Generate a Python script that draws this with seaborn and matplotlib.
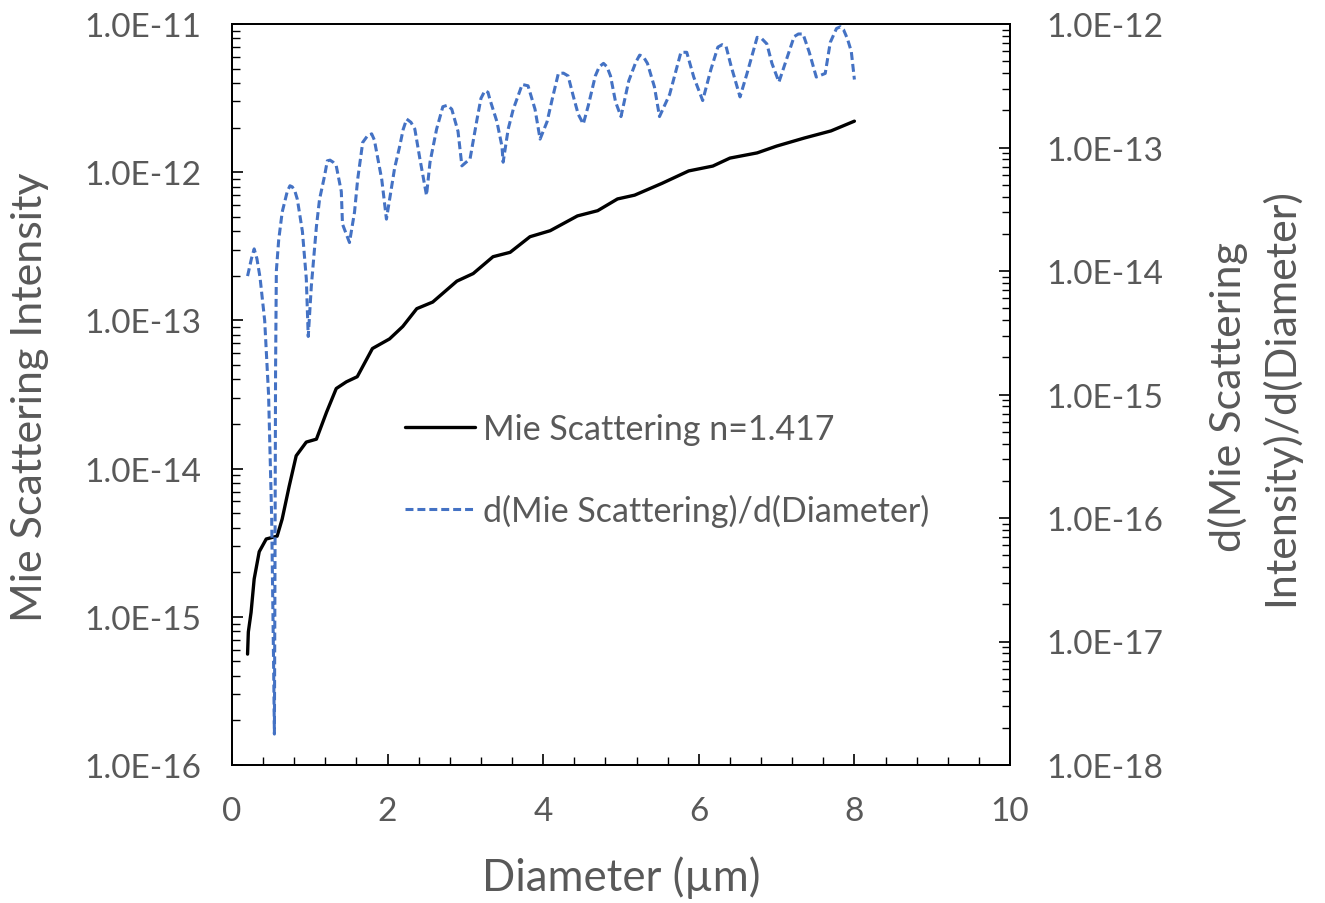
import matplotlib
matplotlib.use("Agg")
import matplotlib.pyplot as plt
import matplotlib.ticker as mticker
import seaborn as sns
import numpy as np

# ---------------- data ----------------
diam_mie = [0.2, 0.21, 0.245, 0.285, 0.35, 0.44, 0.58, 0.645, 0.735, 0.825,
            0.955, 1.085, 1.215, 1.34, 1.47, 1.61, 1.805, 2.025, 2.195, 2.375,
            2.58, 2.89, 3.1, 3.355, 3.575, 3.83, 4.09, 4.44, 4.7, 4.955,
            5.175, 5.525, 5.87, 6.18, 6.4, 6.75, 7.0, 7.355, 7.7, 8.0]
mie_intensity = [5.6e-16, 7.9e-16, 1.07e-15, 1.8e-15, 2.75e-15, 3.35e-15, 3.5e-15, 4.57e-15, 7.6e-15, 1.22e-14,
                 1.51e-14, 1.58e-14, 2.4e-14, 3.47e-14, 3.85e-14, 4.17e-14, 6.46e-14, 7.5e-14, 9.1e-14, 1.2e-13,
                 1.33e-13, 1.84e-13, 2.07e-13, 2.69e-13, 2.88e-13, 3.67e-13, 4.03e-13, 5.07e-13, 5.5e-13, 6.6e-13,
                 7.0e-13, 8.4e-13, 1.02e-12, 1.10e-12, 1.245e-12, 1.35e-12, 1.5e-12, 1.7e-12, 1.9e-12, 2.21e-12]

diam_deriv = [0.2, 0.25, 0.285, 0.32, 0.36, 0.42, 0.47, 0.51, 0.535, 0.545,
              0.553, 0.56, 0.57, 0.60, 0.645, 0.71, 0.745, 0.775, 0.81, 0.84,
              0.905, 0.955, 0.98, 1.02, 1.085, 1.125, 1.19, 1.225, 1.26, 1.30,
              1.34, 1.405, 1.42, 1.51, 1.575, 1.615, 1.68, 1.74, 1.795, 1.83,
              1.86, 1.925, 1.985, 2.09, 2.155, 2.20, 2.245, 2.30, 2.35, 2.415,
              2.50, 2.545, 2.63, 2.71, 2.77, 2.825, 2.905, 2.955, 3.06, 3.15,
              3.20, 3.25, 3.29, 3.315, 3.405, 3.47, 3.485, 3.55, 3.615, 3.73,
              3.805, 3.895, 3.96, 4.05, 4.115, 4.195, 4.26, 4.32, 4.385, 4.45,
              4.515, 4.58, 4.67, 4.72, 4.775, 4.82, 4.865, 4.93, 5.0, 5.1,
              5.19, 5.24, 5.29, 5.34, 5.43, 5.495, 5.625, 5.77, 5.845, 5.935,
              6.05, 6.155, 6.245, 6.30, 6.35, 6.415, 6.53, 6.62, 6.75, 6.81,
              6.875, 6.94, 7.03, 7.225, 7.28, 7.34, 7.42, 7.51, 7.625, 7.69,
              7.77, 7.82, 7.86, 7.91, 7.96, 8.0]
deriv_values = [9.1e-15, 1.26e-14, 1.51e-14, 1.26e-14, 8.9e-15, 3.98e-15, 1.0e-15, 1.0e-16, 6.3e-18, 1.78e-18,
                5.0e-17, 1.58e-15, 1.0e-14, 1.78e-14, 3.0e-14, 4.4e-14, 4.9e-14, 4.8e-14, 4.4e-14, 3.8e-14,
                2.09e-14, 8.7e-15, 2.95e-15, 7.6e-15, 2.29e-14, 3.8e-14, 5.9e-14, 7.8e-14, 7.9e-14, 7.6e-14,
                7.1e-14, 4.4e-14, 2.4e-14, 1.7e-14, 3.0e-14, 5.5e-14, 1.1e-13, 1.24e-13, 1.29e-13, 1.15e-13,
                9.1e-14, 5.5e-14, 2.63e-14, 6.8e-14, 1.02e-13, 1.4e-13, 1.7e-13, 1.6e-13, 1.41e-13, 8.1e-14,
                4.1e-14, 7.6e-14, 1.41e-13, 2.14e-13, 2.2e-13, 2.04e-13, 1.35e-13, 7.1e-14, 8.1e-14, 1.7e-13,
                2.5e-13, 2.88e-13, 2.8e-13, 2.45e-13, 1.62e-13, 1.02e-13, 7.6e-14, 1.41e-13, 2.04e-13, 3.24e-13,
                3.16e-13, 2.04e-13, 1.17e-13, 1.62e-13, 2.45e-13, 3.98e-13, 4.0e-13, 3.8e-13, 2.63e-13, 1.86e-13,
                1.55e-13, 2.19e-13, 3.8e-13, 4.5e-13, 4.8e-13, 4.5e-13, 3.8e-13, 2.34e-13, 1.78e-13, 3.47e-13,
                4.9e-13, 5.6e-13, 5.4e-13, 4.8e-13, 3.09e-13, 1.78e-13, 2.69e-13, 5.9e-13, 5.9e-13, 3.72e-13,
                2.4e-13, 4.27e-13, 6.5e-13, 6.8e-13, 6.6e-13, 4.57e-13, 2.57e-13, 3.98e-13, 7.8e-13, 7.6e-13,
                6.9e-13, 4.8e-13, 3.39e-13, 7.9e-13, 8.3e-13, 8.3e-13, 5.9e-13, 3.72e-13, 3.98e-13, 7.1e-13,
                9.2e-13, 9.5e-13, 9.0e-13, 7.6e-13, 6.0e-13, 3.55e-13]

label_mie = "Mie Scattering n=1.417"
label_deriv = "d(Mie Scattering)/d(Diameter)"
x_ticks = [0, 2, 4, 6, 8, 10]
left_ticks = [1e-16, 1e-15, 1e-14, 1e-13, 1e-12, 1e-11]
right_ticks = [1e-18, 1e-17, 1e-16, 1e-15, 1e-14, 1e-13, 1e-12]

# ---------------- style ----------------
sns.set_style("white")
plt.rcParams['font.family'] = ['Lato', 'DejaVu Sans']
GREY = "#595959"
BLUE = "#4472C4"

fig = plt.figure(figsize=(13.25, 9.04), dpi=100)
ax = fig.add_axes([232/1325, 1-766/904, (1010-232)/1325, (766-25)/904])
ax2 = ax.twinx()

sns.lineplot(x=diam_mie, y=mie_intensity, ax=ax, color="black", linewidth=2.4,
             label=label_mie, legend=False)
sns.lineplot(x=diam_deriv, y=deriv_values, ax=ax2, color=BLUE, linewidth=2.2,
             linestyle=(0, (2.6, 1.3)), label=label_deriv, legend=False)

ax.set_xlim(0, 10)
ax.set_yscale("log")
ax2.set_yscale("log")
ax.set_ylim(1e-16, 1e-11)
ax2.set_ylim(1e-18, 1e-12)

def fmt(v, pos):
    e = int(np.round(np.log10(v)))
    return f"1.0E{e:d}"

def minor_positions(decades):
    out = []
    for d in decades[:-1]:
        out.extend([d * k for k in range(2, 10)])
    return out

ax.yaxis.set_major_locator(mticker.FixedLocator(left_ticks))
ax.yaxis.set_minor_locator(mticker.FixedLocator(minor_positions(left_ticks)))
ax2.yaxis.set_major_locator(mticker.FixedLocator(right_ticks))
ax2.yaxis.set_minor_locator(mticker.FixedLocator(minor_positions(right_ticks)))
for a in (ax, ax2):
    a.yaxis.set_major_formatter(mticker.FuncFormatter(fmt))
    a.yaxis.set_minor_formatter(mticker.NullFormatter())

ax.set_xticks(x_ticks)
ax.xaxis.set_minor_locator(mticker.MultipleLocator(0.4))

TICKFS = 24
ax.tick_params(axis="x", which="major", direction="in", length=8, width=1.2,
               color="black", labelsize=TICKFS, labelcolor=GREY, pad=22, bottom=True)
ax.tick_params(axis="x", which="minor", direction="in", length=6, width=1.0,
               color="black", bottom=True)
ax.tick_params(axis="y", which="major", direction="in", length=8, width=1.2,
               color="black", labelsize=TICKFS, labelcolor=GREY, pad=22, left=True)
ax.tick_params(axis="y", which="minor", direction="in", length=6, width=1.0,
               color="black", left=True)
ax2.tick_params(axis="y", which="major", direction="in", length=8, width=1.2,
                color="black", labelsize=TICKFS, labelcolor=GREY, pad=26, right=True)
ax2.tick_params(axis="y", which="minor", direction="in", length=6, width=1.0,
                color="black", right=True)

for a in (ax, ax2):
    for s in a.spines.values():
        s.set_color("black")
        s.set_linewidth(1.3)
        s.set_visible(True)

ax.set_xlabel("")
ax.set_ylabel("")
ax2.set_ylabel("")

fig.text(30/1325, 1-397/904, "Mie Scattering Intensity", rotation=90,
         ha="center", va="center", fontsize=31, color=GREY)
fig.text(621/1325, 1-878/904, "Diameter (\u00b5m)",
         ha="center", va="center", fontsize=31.5, color=GREY)
fig.text(1254/1325, 1-397/904, "d(Mie Scattering\nIntensity)/d(Diameter)", rotation=90,
         ha="center", va="center", multialignment="center", fontsize=31,
         color=GREY, linespacing=1.35)

h1, l1 = ax.get_legend_handles_labels()
h2, l2 = ax2.get_legend_handles_labels()
leg = ax2.legend(h1 + h2, l1 + l2, loc="center left",
                 bbox_to_anchor=((405-232)/778, (766-471)/741),
                 frameon=False, fontsize=24.5, labelcolor=GREY,
                 handlelength=2.05, handletextpad=0.25, labelspacing=1.44,
                 borderpad=0, borderaxespad=0)

fig.savefig("out.png", dpi=100)
